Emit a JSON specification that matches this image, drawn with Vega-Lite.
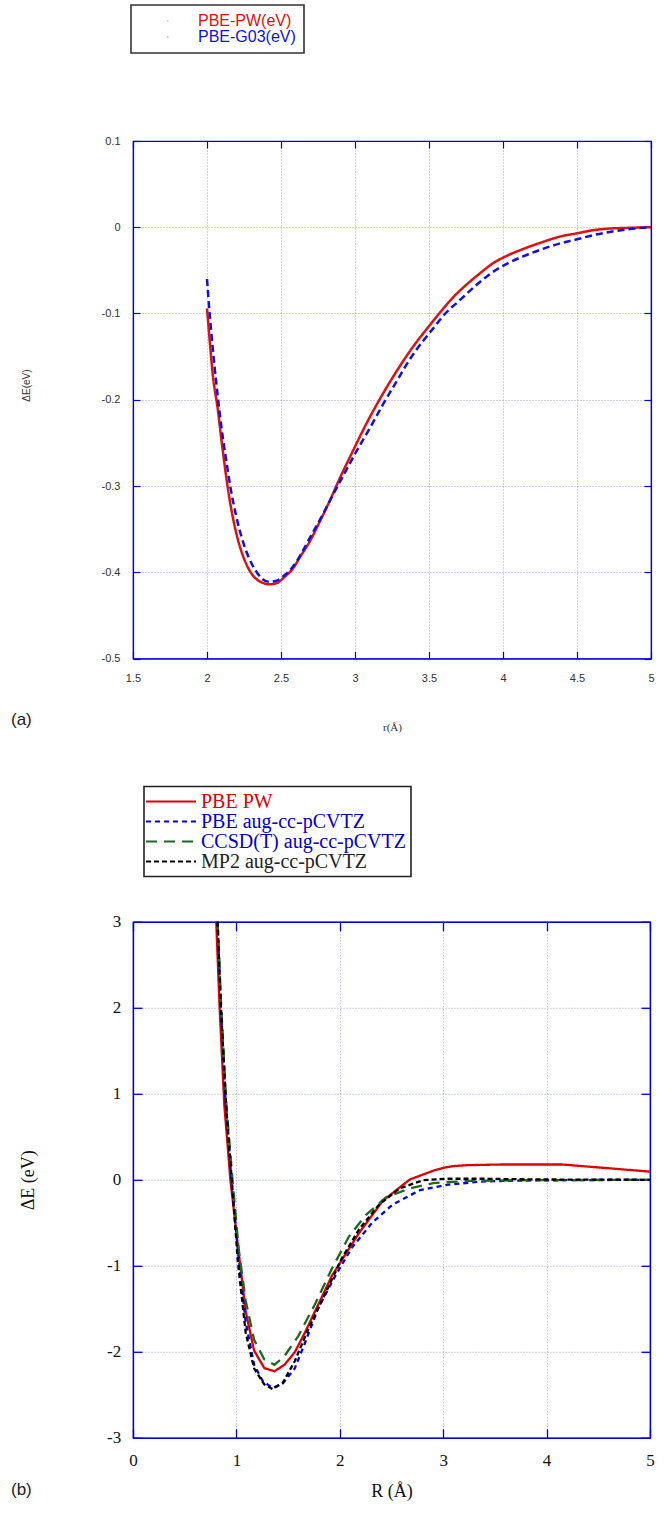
{
  "$schema": "https://vega.github.io/schema/vega-lite/v6.json",
  "padding": {"left": 10, "top": 3, "right": 6, "bottom": 6},
  "background": "white",
  "bounds": "flush",
  "spacing": 262.8,
  "resolve": {"scale": {"x": "independent", "y": "independent", "color": "independent", "strokeDash": "independent"}, "legend": {"color": "independent", "strokeDash": "independent"}},
  "config": {"view": {"stroke": "#0000dd", "strokeWidth": 1.2}},
  "datasets": {
    "a": [
      {"x": 2.0, "y": -0.094, "s": "PBE-PW(eV)"}, {"x": 2.02, "y": -0.135, "s": "PBE-PW(eV)"}, {"x": 2.039, "y": -0.171, "s": "PBE-PW(eV)"}, {"x": 2.072, "y": -0.21, "s": "PBE-PW(eV)"}, {"x": 2.1, "y": -0.25, "s": "PBE-PW(eV)"}, {"x": 2.128, "y": -0.287, "s": "PBE-PW(eV)"}, {"x": 2.155, "y": -0.318, "s": "PBE-PW(eV)"}, {"x": 2.185, "y": -0.345, "s": "PBE-PW(eV)"}, {"x": 2.21, "y": -0.363, "s": "PBE-PW(eV)"}, {"x": 2.241, "y": -0.38, "s": "PBE-PW(eV)"}, {"x": 2.275, "y": -0.394, "s": "PBE-PW(eV)"}, {"x": 2.309, "y": -0.4035, "s": "PBE-PW(eV)"}, {"x": 2.35, "y": -0.41, "s": "PBE-PW(eV)"}, {"x": 2.39, "y": -0.413, "s": "PBE-PW(eV)"}, {"x": 2.422, "y": -0.414, "s": "PBE-PW(eV)"}, {"x": 2.45, "y": -0.4135, "s": "PBE-PW(eV)"}, {"x": 2.478, "y": -0.412, "s": "PBE-PW(eV)"}, {"x": 2.52, "y": -0.406, "s": "PBE-PW(eV)"}, {"x": 2.579, "y": -0.396, "s": "PBE-PW(eV)"}, {"x": 2.63, "y": -0.382, "s": "PBE-PW(eV)"}, {"x": 2.692, "y": -0.365, "s": "PBE-PW(eV)"}, {"x": 2.76, "y": -0.342, "s": "PBE-PW(eV)"}, {"x": 2.827, "y": -0.318, "s": "PBE-PW(eV)"}, {"x": 2.9, "y": -0.29, "s": "PBE-PW(eV)"}, {"x": 2.984, "y": -0.26, "s": "PBE-PW(eV)"}, {"x": 3.07, "y": -0.23, "s": "PBE-PW(eV)"}, {"x": 3.165, "y": -0.2, "s": "PBE-PW(eV)"}, {"x": 3.277, "y": -0.168, "s": "PBE-PW(eV)"}, {"x": 3.39, "y": -0.139, "s": "PBE-PW(eV)"}, {"x": 3.503, "y": -0.114, "s": "PBE-PW(eV)"}, {"x": 3.593, "y": -0.095, "s": "PBE-PW(eV)"}, {"x": 3.67, "y": -0.08, "s": "PBE-PW(eV)"}, {"x": 3.75, "y": -0.067, "s": "PBE-PW(eV)"}, {"x": 3.84, "y": -0.054, "s": "PBE-PW(eV)"}, {"x": 3.93, "y": -0.042, "s": "PBE-PW(eV)"}, {"x": 4.04, "y": -0.032, "s": "PBE-PW(eV)"}, {"x": 4.155, "y": -0.024, "s": "PBE-PW(eV)"}, {"x": 4.27, "y": -0.017, "s": "PBE-PW(eV)"}, {"x": 4.381, "y": -0.011, "s": "PBE-PW(eV)"}, {"x": 4.5, "y": -0.007, "s": "PBE-PW(eV)"}, {"x": 4.606, "y": -0.0035, "s": "PBE-PW(eV)"}, {"x": 4.72, "y": -0.0015, "s": "PBE-PW(eV)"}, {"x": 4.831, "y": -0.0008, "s": "PBE-PW(eV)"}, {"x": 5.0, "y": 0.0, "s": "PBE-PW(eV)"},
      {"x": 2.0, "y": -0.06, "s": "PBE-G03(eV)"}, {"x": 2.013, "y": -0.09, "s": "PBE-G03(eV)"}, {"x": 2.027, "y": -0.118, "s": "PBE-G03(eV)"}, {"x": 2.05, "y": -0.16, "s": "PBE-G03(eV)"}, {"x": 2.072, "y": -0.195, "s": "PBE-G03(eV)"}, {"x": 2.1, "y": -0.235, "s": "PBE-G03(eV)"}, {"x": 2.128, "y": -0.268, "s": "PBE-G03(eV)"}, {"x": 2.16, "y": -0.303, "s": "PBE-G03(eV)"}, {"x": 2.196, "y": -0.334, "s": "PBE-G03(eV)"}, {"x": 2.235, "y": -0.36, "s": "PBE-G03(eV)"}, {"x": 2.275, "y": -0.38, "s": "PBE-G03(eV)"}, {"x": 2.325, "y": -0.397, "s": "PBE-G03(eV)"}, {"x": 2.376, "y": -0.408, "s": "PBE-G03(eV)"}, {"x": 2.42, "y": -0.411, "s": "PBE-G03(eV)"}, {"x": 2.466, "y": -0.41, "s": "PBE-G03(eV)"}, {"x": 2.52, "y": -0.404, "s": "PBE-G03(eV)"}, {"x": 2.579, "y": -0.394, "s": "PBE-G03(eV)"}, {"x": 2.635, "y": -0.379, "s": "PBE-G03(eV)"}, {"x": 2.692, "y": -0.361, "s": "PBE-G03(eV)"}, {"x": 2.77, "y": -0.337, "s": "PBE-G03(eV)"}, {"x": 2.849, "y": -0.311, "s": "PBE-G03(eV)"}, {"x": 2.93, "y": -0.285, "s": "PBE-G03(eV)"}, {"x": 3.007, "y": -0.2606, "s": "PBE-G03(eV)"}, {"x": 3.1, "y": -0.233, "s": "PBE-G03(eV)"}, {"x": 3.187, "y": -0.206, "s": "PBE-G03(eV)"}, {"x": 3.28, "y": -0.179, "s": "PBE-G03(eV)"}, {"x": 3.367, "y": -0.154, "s": "PBE-G03(eV)"}, {"x": 3.45, "y": -0.134, "s": "PBE-G03(eV)"}, {"x": 3.525, "y": -0.118, "s": "PBE-G03(eV)"}, {"x": 3.61, "y": -0.1, "s": "PBE-G03(eV)"}, {"x": 3.705, "y": -0.085, "s": "PBE-G03(eV)"}, {"x": 3.82, "y": -0.067, "s": "PBE-G03(eV)"}, {"x": 3.93, "y": -0.052, "s": "PBE-G03(eV)"}, {"x": 4.04, "y": -0.041, "s": "PBE-G03(eV)"}, {"x": 4.155, "y": -0.0325, "s": "PBE-G03(eV)"}, {"x": 4.27, "y": -0.025, "s": "PBE-G03(eV)"}, {"x": 4.381, "y": -0.019, "s": "PBE-G03(eV)"}, {"x": 4.5, "y": -0.014, "s": "PBE-G03(eV)"}, {"x": 4.606, "y": -0.0093, "s": "PBE-G03(eV)"}, {"x": 4.72, "y": -0.0055, "s": "PBE-G03(eV)"}, {"x": 4.831, "y": -0.0028, "s": "PBE-G03(eV)"}, {"x": 4.92, "y": -0.001, "s": "PBE-G03(eV)"}, {"x": 5.0, "y": 0.0, "s": "PBE-G03(eV)"}
    ],
    "b": [
      {"x": 0.805, "y": 3, "s": "PBE PW"}, {"x": 0.838, "y": 1.99, "s": "PBE PW"}, {"x": 0.883, "y": 0.874, "s": "PBE PW"}, {"x": 0.942, "y": 0.0, "s": "PBE PW"}, {"x": 1.008, "y": -0.7, "s": "PBE PW"}, {"x": 1.09, "y": -1.53, "s": "PBE PW"}, {"x": 1.171, "y": -1.985, "s": "PBE PW"}, {"x": 1.27, "y": -2.19, "s": "PBE PW"}, {"x": 1.368, "y": -2.226, "s": "PBE PW"}, {"x": 1.466, "y": -2.15, "s": "PBE PW"}, {"x": 1.564, "y": -2.006, "s": "PBE PW"}, {"x": 1.662, "y": -1.778, "s": "PBE PW"}, {"x": 1.793, "y": -1.447, "s": "PBE PW"}, {"x": 1.924, "y": -1.115, "s": "PBE PW"}, {"x": 2.055, "y": -0.866, "s": "PBE PW"}, {"x": 2.186, "y": -0.618, "s": "PBE PW"}, {"x": 2.415, "y": -0.245, "s": "PBE PW"}, {"x": 2.677, "y": 0.004, "s": "PBE PW"}, {"x": 2.906, "y": 0.107, "s": "PBE PW"}, {"x": 3.004, "y": 0.14, "s": "PBE PW"}, {"x": 3.102, "y": 0.16, "s": "PBE PW"}, {"x": 3.233, "y": 0.17, "s": "PBE PW"}, {"x": 3.56, "y": 0.178, "s": "PBE PW"}, {"x": 4.149, "y": 0.178, "s": "PBE PW"}, {"x": 4.542, "y": 0.14, "s": "PBE PW"}, {"x": 5.0, "y": 0.095, "s": "PBE PW"},
      {"x": 0.818, "y": 3, "s": "PBE aug-cc-pCVTZ"}, {"x": 0.851, "y": 1.99, "s": "PBE aug-cc-pCVTZ"}, {"x": 0.897, "y": 0.874, "s": "PBE aug-cc-pCVTZ"}, {"x": 0.952, "y": 0.0, "s": "PBE aug-cc-pCVTZ"}, {"x": 1.014, "y": -0.825, "s": "PBE aug-cc-pCVTZ"}, {"x": 1.09, "y": -1.654, "s": "PBE aug-cc-pCVTZ"}, {"x": 1.171, "y": -2.15, "s": "PBE aug-cc-pCVTZ"}, {"x": 1.253, "y": -2.338, "s": "PBE aug-cc-pCVTZ"}, {"x": 1.351, "y": -2.421, "s": "PBE aug-cc-pCVTZ"}, {"x": 1.45, "y": -2.367, "s": "PBE aug-cc-pCVTZ"}, {"x": 1.564, "y": -2.193, "s": "PBE aug-cc-pCVTZ"}, {"x": 1.662, "y": -1.9, "s": "PBE aug-cc-pCVTZ"}, {"x": 1.793, "y": -1.488, "s": "PBE aug-cc-pCVTZ"}, {"x": 1.957, "y": -1.115, "s": "PBE aug-cc-pCVTZ"}, {"x": 2.12, "y": -0.784, "s": "PBE aug-cc-pCVTZ"}, {"x": 2.317, "y": -0.494, "s": "PBE aug-cc-pCVTZ"}, {"x": 2.513, "y": -0.286, "s": "PBE aug-cc-pCVTZ"}, {"x": 2.775, "y": -0.121, "s": "PBE aug-cc-pCVTZ"}, {"x": 3.037, "y": -0.058, "s": "PBE aug-cc-pCVTZ"}, {"x": 3.364, "y": -0.021, "s": "PBE aug-cc-pCVTZ"}, {"x": 3.724, "y": -0.009, "s": "PBE aug-cc-pCVTZ"}, {"x": 4.215, "y": -0.004, "s": "PBE aug-cc-pCVTZ"}, {"x": 5.0, "y": 0.0, "s": "PBE aug-cc-pCVTZ"},
      {"x": 0.818, "y": 3, "s": "CCSD(T) aug-cc-pCVTZ"}, {"x": 0.854, "y": 1.99, "s": "CCSD(T) aug-cc-pCVTZ"}, {"x": 0.903, "y": 0.874, "s": "CCSD(T) aug-cc-pCVTZ"}, {"x": 0.962, "y": 0.0, "s": "CCSD(T) aug-cc-pCVTZ"}, {"x": 1.024, "y": -0.825, "s": "CCSD(T) aug-cc-pCVTZ"}, {"x": 1.09, "y": -1.405, "s": "CCSD(T) aug-cc-pCVTZ"}, {"x": 1.171, "y": -1.861, "s": "CCSD(T) aug-cc-pCVTZ"}, {"x": 1.27, "y": -2.089, "s": "CCSD(T) aug-cc-pCVTZ"}, {"x": 1.368, "y": -2.151, "s": "CCSD(T) aug-cc-pCVTZ"}, {"x": 1.466, "y": -2.048, "s": "CCSD(T) aug-cc-pCVTZ"}, {"x": 1.597, "y": -1.82, "s": "CCSD(T) aug-cc-pCVTZ"}, {"x": 1.76, "y": -1.447, "s": "CCSD(T) aug-cc-pCVTZ"}, {"x": 1.924, "y": -1.032, "s": "CCSD(T) aug-cc-pCVTZ"}, {"x": 2.088, "y": -0.66, "s": "CCSD(T) aug-cc-pCVTZ"}, {"x": 2.251, "y": -0.411, "s": "CCSD(T) aug-cc-pCVTZ"}, {"x": 2.448, "y": -0.203, "s": "CCSD(T) aug-cc-pCVTZ"}, {"x": 2.677, "y": -0.1, "s": "CCSD(T) aug-cc-pCVTZ"}, {"x": 2.906, "y": -0.038, "s": "CCSD(T) aug-cc-pCVTZ"}, {"x": 3.233, "y": -0.013, "s": "CCSD(T) aug-cc-pCVTZ"}, {"x": 3.887, "y": -0.004, "s": "CCSD(T) aug-cc-pCVTZ"}, {"x": 5.0, "y": 0.0, "s": "CCSD(T) aug-cc-pCVTZ"},
      {"x": 0.818, "y": 3, "s": "MP2 aug-cc-pCVTZ"}, {"x": 0.851, "y": 1.99, "s": "MP2 aug-cc-pCVTZ"}, {"x": 0.9, "y": 0.874, "s": "MP2 aug-cc-pCVTZ"}, {"x": 0.955, "y": 0.0, "s": "MP2 aug-cc-pCVTZ"}, {"x": 1.014, "y": -0.95, "s": "MP2 aug-cc-pCVTZ"}, {"x": 1.09, "y": -1.778, "s": "MP2 aug-cc-pCVTZ"}, {"x": 1.171, "y": -2.193, "s": "MP2 aug-cc-pCVTZ"}, {"x": 1.27, "y": -2.38, "s": "MP2 aug-cc-pCVTZ"}, {"x": 1.351, "y": -2.433, "s": "MP2 aug-cc-pCVTZ"}, {"x": 1.45, "y": -2.359, "s": "MP2 aug-cc-pCVTZ"}, {"x": 1.564, "y": -2.11, "s": "MP2 aug-cc-pCVTZ"}, {"x": 1.695, "y": -1.737, "s": "MP2 aug-cc-pCVTZ"}, {"x": 1.859, "y": -1.322, "s": "MP2 aug-cc-pCVTZ"}, {"x": 2.022, "y": -0.908, "s": "MP2 aug-cc-pCVTZ"}, {"x": 2.186, "y": -0.576, "s": "MP2 aug-cc-pCVTZ"}, {"x": 2.382, "y": -0.286, "s": "MP2 aug-cc-pCVTZ"}, {"x": 2.579, "y": -0.1, "s": "MP2 aug-cc-pCVTZ"}, {"x": 2.808, "y": -0.004, "s": "MP2 aug-cc-pCVTZ"}, {"x": 3.037, "y": 0.012, "s": "MP2 aug-cc-pCVTZ"}, {"x": 3.397, "y": 0.012, "s": "MP2 aug-cc-pCVTZ"}, {"x": 3.887, "y": 0.004, "s": "MP2 aug-cc-pCVTZ"}, {"x": 5.0, "y": 0.0, "s": "MP2 aug-cc-pCVTZ"}
    ]
  },
  "vconcat": [
    {
      "width": 518,
      "height": 517.5,
      "data": {"name": "a"},
      "title": {"text": "(a)", "orient": "bottom", "anchor": "start", "frame": "group", "offset": -20.5, "dx": -122, "font": "Liberation Sans", "fontSize": 17, "fontWeight": "normal", "color": "#222"},
      "layer": [
        {
          "mark": {"type": "line", "strokeWidth": 2.5, "interpolate": "monotone"},
          "encoding": {
            "x": {"field": "x", "type": "quantitative", "scale": {"domain": [1.5, 5], "nice": false, "zero": false},
              "axis": {"orient": "bottom", "values": [1.5, 2, 2.5, 3, 3.5, 4, 4.5, 5], "labelExpr": "'' + datum.value", "labelFont": "Liberation Sans", "labelFontSize": 11, "labelColor": "#333", "labelPadding": 20.5, "labelFlush": false, "labelOverlap": false, "tickSize": -7, "tickColor": "#0000dd", "tickWidth": 1.2, "domainColor": "#0000dd", "domainWidth": 1.2, "grid": true, "gridColor": "#8c8cee", "gridDash": [1, 2], "gridWidth": 0.8, "title": "r(Å)", "titleFont": "Liberation Serif", "titleFontSize": 11, "titleFontWeight": "normal", "titleColor": "#333", "titleY": 62.5}},
            "y": {"field": "y", "type": "quantitative", "scale": {"domain": [-0.5, 0.1], "nice": false, "zero": false},
              "axis": {"orient": "left", "values": [-0.5, -0.4, -0.3, -0.2, -0.1, 0, 0.1], "labelExpr": "'' + datum.value", "labelFont": "Liberation Sans", "labelFontSize": 11, "labelColor": "#333", "labelPadding": 20, "labelFlush": false, "labelOverlap": false, "tickSize": -7, "tickColor": "#0000dd", "tickWidth": 1.2, "domainColor": "#0000dd", "domainWidth": 1.2, "grid": true, "gridColor": "#8c8cee", "gridDash": [1, 2], "gridWidth": 0.8, "title": "ΔE(eV)", "titleFont": "Liberation Sans", "titleFontSize": 10, "titleFontWeight": "normal", "titleColor": "#333", "titleX": -102, "titleY": 244}},
            "color": {"field": "s", "type": "nominal", "sort": null,
              "scale": {"domain": ["PBE-PW(eV)", "PBE-G03(eV)"], "range": ["#e01010", "#1010e0"]},
              "legend": {"orient": "none", "legendX": -2, "legendY": -136, "title": null, "direction": "vertical", "padding": 8, "strokeColor": "#333", "fillColor": "white", "labelFont": "Liberation Sans", "labelFontSize": 16, "labelLimit": 0, "labelOffset": 22.3, "symbolOffset": 20.7, "symbolType": "circle", "symbolSize": 3, "symbolStrokeWidth": 0, "rowPadding": 0,
                "encode": {"labels": {"update": {"text": {"signal": "datum.label + '\u00a0\u00a0'"}, "fill": {"signal": "datum.value === 'PBE-PW(eV)' ? '#e01010' : '#1010e0'"}}}, "symbols": {"update": {"fill": {"signal": "datum.value === 'PBE-PW(eV)' ? '#f4b0b0' : '#b0b0f4'"}}}, "legend": {"update": {"strokeWidth": {"value": 1.6}}}}}},
            "strokeDash": {"field": "s", "type": "nominal", "sort": null,
              "scale": {"domain": ["PBE-PW(eV)", "PBE-G03(eV)"], "range": [[1, 0], [7, 4]]}, "legend": null}
          }
        },
        {
          "mark": {"type": "line", "opacity": 0},
          "encoding": {
            "x": {"field": "x", "type": "quantitative", "scale": {"domain": [1.5, 5], "nice": false, "zero": false},
              "axis": {"orient": "top", "values": [1.5, 2, 2.5, 3, 3.5, 4, 4.5, 5], "labels": false, "grid": false, "title": null, "tickSize": -7, "tickColor": "#0000dd", "tickWidth": 1.2, "domainColor": "#0000dd", "domainWidth": 1.2}},
            "y": {"field": "y", "type": "quantitative", "scale": {"domain": [-0.5, 0.1], "nice": false, "zero": false},
              "axis": {"orient": "right", "values": [-0.5, -0.4, -0.3, -0.2, -0.1, 0, 0.1], "labels": false, "grid": false, "title": null, "tickSize": -7, "tickColor": "#0000dd", "tickWidth": 1.2, "domainColor": "#0000dd", "domainWidth": 1.2}},
            "detail": {"field": "s", "type": "nominal"}
          }
        }
      ],
      "resolve": {"axis": {"x": "independent", "y": "independent"}}
    },
    {
      "width": 517,
      "height": 516,
      "data": {"name": "b"},
      "title": {"text": "(b)", "orient": "bottom", "anchor": "start", "frame": "group", "offset": -19, "dx": -122, "font": "Liberation Sans", "fontSize": 17, "fontWeight": "normal", "color": "#222"},
      "layer": [
        {
          "mark": {"type": "line", "strokeWidth": 2.3},
          "encoding": {
            "x": {"field": "x", "type": "quantitative", "scale": {"domain": [0, 5], "nice": false, "zero": false},
              "axis": {"orient": "bottom", "values": [0, 1, 2, 3, 4, 5], "labelExpr": "'' + datum.value", "labelFont": "Liberation Serif", "labelFontSize": 17, "labelColor": "#111", "labelPadding": 23.6, "labelFlush": false, "labelOverlap": false, "tickSize": -9, "tickColor": "#0000dd", "tickWidth": 1.3, "domainColor": "#0000dd", "domainWidth": 1.3, "grid": true, "gridColor": "#8c8cee", "gridDash": [1, 2], "gridWidth": 0.8, "title": "R (Å)", "titleFont": "Liberation Serif", "titleFontSize": 18, "titleFontWeight": "normal", "titleColor": "#111", "titleY": 44.7}},
            "y": {"field": "y", "type": "quantitative", "scale": {"domain": [-3, 3], "nice": false, "zero": false},
              "axis": {"orient": "left", "values": [-3, -2, -1, 0, 1, 2, 3], "labelExpr": "'' + datum.value", "labelFont": "Liberation Serif", "labelFontSize": 17, "labelColor": "#111", "labelPadding": 21.3, "labelFlush": false, "labelOverlap": false, "tickSize": -9, "tickColor": "#0000dd", "tickWidth": 1.3, "domainColor": "#0000dd", "domainWidth": 1.3, "grid": true, "gridColor": "#8c8cee", "gridDash": [1, 2], "gridWidth": 0.8, "title": "ΔE (eV)", "titleFont": "Liberation Serif", "titleFontSize": 18, "titleFontWeight": "normal", "titleColor": "#111", "titleX": -95.5, "titleY": 258}},
            "color": {"field": "s", "type": "nominal", "sort": null,
              "scale": {"domain": ["PBE PW", "PBE aug-cc-pCVTZ", "CCSD(T) aug-cc-pCVTZ", "MP2 aug-cc-pCVTZ"], "range": ["#e00000", "#0000ee", "#1a6b1a", "#000000"]},
              "legend": {"orient": "none", "legendX": 11, "legendY": -135.3, "title": null, "direction": "vertical", "padding": 5, "strokeColor": "#222", "fillColor": "white", "labelFont": "Liberation Serif", "labelFontSize": 20, "labelLimit": 0, "labelOffset": 20, "symbolOffset": 12, "symbolType": "M-5,0L5,0", "symbolSize": 100, "symbolStrokeWidth": 2, "rowPadding": 0,
                "encode": {"labels": {"update": {"text": {"signal": "datum.label + '\u00a0'"}, "fill": {"signal": "datum.value === 'PBE PW' ? '#e00000' : datum.value === 'MP2 aug-cc-pCVTZ' ? '#222222' : '#0000cc'"}}}, "legend": {"update": {"strokeWidth": {"value": 1.6}}}}}},
            "strokeDash": {"field": "s", "type": "nominal", "sort": null,
              "scale": {"domain": ["PBE PW", "PBE aug-cc-pCVTZ", "CCSD(T) aug-cc-pCVTZ", "MP2 aug-cc-pCVTZ"], "range": [[1, 0], [5, 4], [11, 7], [5, 3]]},
              "legend": {"orient": "none", "legendX": 11, "legendY": -135.3, "title": null, "direction": "vertical", "padding": 5, "strokeColor": "#222", "fillColor": "white", "labelFont": "Liberation Serif", "labelFontSize": 20, "labelLimit": 0, "labelOffset": 20, "symbolOffset": 12, "symbolType": "M-5,0L5,0", "symbolSize": 100, "symbolStrokeWidth": 2, "rowPadding": 0}}
          }
        },
        {
          "mark": {"type": "line", "opacity": 0},
          "encoding": {
            "x": {"field": "x", "type": "quantitative", "scale": {"domain": [0, 5], "nice": false, "zero": false},
              "axis": {"orient": "top", "values": [0, 1, 2, 3, 4, 5], "labels": false, "grid": false, "title": null, "tickSize": -9, "tickColor": "#0000dd", "tickWidth": 1.3, "domainColor": "#0000dd", "domainWidth": 1.3}},
            "y": {"field": "y", "type": "quantitative", "scale": {"domain": [-3, 3], "nice": false, "zero": false},
              "axis": {"orient": "right", "values": [-3, -2, -1, 0, 1, 2, 3], "labels": false, "grid": false, "title": null, "tickSize": -9, "tickColor": "#0000dd", "tickWidth": 1.3, "domainColor": "#0000dd", "domainWidth": 1.3}},
            "detail": {"field": "s", "type": "nominal"}
          }
        }
      ],
      "resolve": {"axis": {"x": "independent", "y": "independent"}}
    }
  ]
}
